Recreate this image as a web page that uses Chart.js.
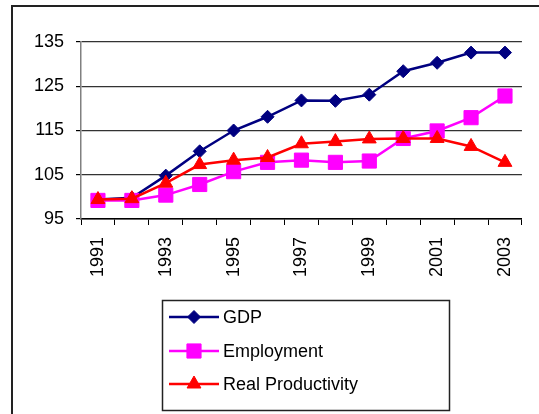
<!DOCTYPE html>
<html>
<head>
<meta charset="utf-8">
<script src="https://cdn.jsdelivr.net/npm/chart.js@4/dist/chart.umd.min.js"></script>
<style>
  body { margin: 0; background: #fff; }
  #frame { position: absolute; left: 11px; top: 5px; width: 600px; height: 500px;
           border-top: 2px solid #222; border-left: 2px solid #222; }
  #chart { position: absolute; left: 0; top: 0; }
</style>
</head>
<body>
<div id="frame"></div>
<canvas id="chart" width="539" height="414"></canvas>
<script>
// anos e séries (índice 1991 = ~100)
const anos = ['1991', '1992', '1993', '1994', '1995', '1996', '1997', '1998', '1999', '2000', '2001', '2002', '2003'];
const gdp = [99.4, 99.8, 104.8, 110.3, 115.0, 118.1, 121.8, 121.7, 123.1, 128.4, 130.3, 132.6, 132.6];
const employment = [99.2, 99.2, 100.4, 102.8, 105.7, 107.8, 108.3, 107.8, 108.1, 113.2, 114.9, 117.9, 122.8];
const realProductivity = [99.4, 99.6, 103.1, 107.3, 108.3, 108.9, 112.0, 112.5, 113.1, 113.2, 113.2, 111.4, 107.8];
const yTicks = [95, 105, 115, 125, 135];

const fonte = '"Liberation Sans", Arial, sans-serif';

// legenda desenhada à mão, com caixa e amostra de linha + marcador
const legendaCaixa = {
  id: 'legendaCaixa',
  afterDraw(chart) {
    const ctx = chart.ctx;
    ctx.save();
    ctx.lineWidth = 1.5;
    ctx.strokeStyle = '#222';
    ctx.strokeRect(162.5, 300.5, 287, 110);
    const linhasY = [317, 351, 384];
    chart.data.datasets.forEach((ds, i) => {
      const y = linhasY[i];
      ctx.strokeStyle = ds.borderColor;
      ctx.lineWidth = ds.borderWidth;
      ctx.beginPath();
      ctx.moveTo(169, y);
      ctx.lineTo(219, y);
      ctx.stroke();
      ctx.fillStyle = ds.pointBackgroundColor;
      ctx.strokeStyle = ds.pointBorderColor;
      ctx.lineWidth = 1;
      Chart.helpers.drawPoint(ctx, { pointStyle: ds.pointStyle, radius: ds.pointRadius, rotation: 0, borderWidth: 1 }, 194, y);
      ctx.fillStyle = '#000';
      ctx.font = '18px ' + fonte;
      ctx.textBaseline = 'middle';
      ctx.textAlign = 'left';
      ctx.fillText(ds.label, 223, y + 1);
    });
    ctx.restore();
  }
};

const ctx = document.getElementById('chart').getContext('2d');
new Chart(ctx, {
  type: 'line',
  data: {
    labels: anos,
    datasets: [
      {
        label: 'GDP', data: gdp, order: 3,
        borderColor: '#000080', borderWidth: 2.5,
        pointStyle: 'rectRot', pointRadius: 6.5,
        pointBackgroundColor: '#000080', pointBorderColor: '#000080', pointBorderWidth: 1
      },
      {
        label: 'Employment', data: employment, order: 2,
        borderColor: '#ff00ff', borderWidth: 2.5,
        pointStyle: 'rect', pointRadius: 10,
        pointBackgroundColor: '#ff00ff', pointBorderColor: '#ff00ff', pointBorderWidth: 1
      },
      {
        label: 'Real Productivity', data: realProductivity, order: 1,
        borderColor: '#ff0000', borderWidth: 2.5,
        pointStyle: 'triangle', pointRadius: 8,
        pointBackgroundColor: '#ff0000', pointBorderColor: '#ff0000', pointBorderWidth: 1
      }
    ]
  },
  options: {
    responsive: false,
    animation: false,
    devicePixelRatio: 1,
    layout: { padding: { top: 42, right: 11, left: 0, bottom: 0 } },
    plugins: { legend: { display: false }, tooltip: { enabled: false } },
    scales: {
      x: {
        type: 'category',
        offset: true,
        grid: { offset: true, drawOnChartArea: false, drawTicks: true, tickLength: 6, tickColor: '#000', lineWidth: 1 },
        border: { color: '#000', width: 1.5 },
        ticks: {
          autoSkip: false, minRotation: 90, maxRotation: 90, padding: 12,
          color: '#000', font: { family: fonte, size: 18 },
          callback: (v, i) => (i % 2 === 0 ? anos[i] : '')
        },
        afterFit: s => { s.height = 195; }
      },
      y: {
        min: 95, max: 135,
        afterBuildTicks: s => { s.ticks = yTicks.map(v => ({ value: v })); },
        grid: { color: '#333', lineWidth: 1.2, drawTicks: true, tickLength: 5, tickColor: '#000' },
        border: { color: '#808080', width: 1.5 },
        ticks: { padding: 12, color: '#000', font: { family: fonte, size: 18 } },
        afterFit: s => { s.width = 81; }
      }
    }
  },
  plugins: [legendaCaixa]
});
</script>
</body>
</html>
